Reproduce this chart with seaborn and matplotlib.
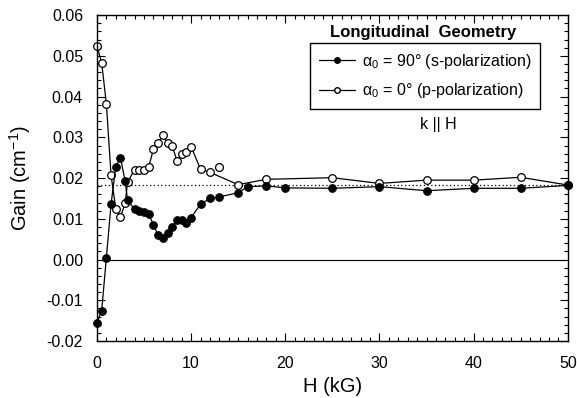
import matplotlib
matplotlib.use("Agg")
import matplotlib.pyplot as plt
from matplotlib.lines import Line2D
from matplotlib.ticker import MultipleLocator, FormatStrFormatter
import pandas as pd
import seaborn as sns

# Gain vs. magnetic field, alpha0 = 90 deg (s-polarization), filled symbols
H_s = [0, 0.5, 1, 1.5, 2, 2.5, 3, 3.25, 4, 4.5, 5, 5.5, 6, 6.5, 7, 7.5, 8, 8.5,
       9, 9.5, 10, 11, 12, 13, 15, 16, 18, 20, 25, 30, 35, 40, 45, 50]
G_s = [-0.0155, -0.0126, 0.0004, 0.0136, 0.0228, 0.0250, 0.0192, 0.0146,
       0.0123, 0.0120, 0.0117, 0.0112, 0.0085, 0.0060, 0.0054, 0.0066, 0.0080,
       0.0097, 0.0097, 0.0090, 0.0103, 0.0136, 0.0150, 0.0154, 0.0164, 0.0179,
       0.0181, 0.0176, 0.0175, 0.0179, 0.0169, 0.0175, 0.0175, 0.0182]

# Gain vs. magnetic field, alpha0 = 0 deg (p-polarization), open symbols
H_p = [0, 0.5, 1, 1.5, 2, 2.5, 3, 3.25, 4, 4.5, 5, 5.5, 6, 6.5, 7, 7.5, 8, 8.5,
       9, 9.5, 10, 11, 12, 15, 18, 25, 30, 35, 40, 45, 50]
G_p = [0.0525, 0.0483, 0.0383, 0.0207, 0.0125, 0.0105, 0.0138, 0.0190,
       0.0221, 0.0219, 0.0221, 0.0228, 0.0271, 0.0287, 0.0306, 0.0285, 0.0279,
       0.0242, 0.0258, 0.0263, 0.0277, 0.0222, 0.0214, 0.0184, 0.0197, 0.0201,
       0.0187, 0.0195, 0.0195, 0.0202, 0.0183]

# unconnected p-polarization measurement
H_p_extra = [13]
G_p_extra = [0.0228]

# reference levels
zero_level = 0.0
zero_span = [1, 50]
dotted_level = 0.0183
dotted_span = [0, 50]

legend_labels = ["α$_0$ = 90° (s-polarization)",
                 "α$_0$ = 0° (p-polarization)"]

sns.set_theme(style="ticks")
plt.rcParams.update({
    "font.family": ["Liberation Sans", "DejaVu Sans"],
    "axes.unicode_minus": False,
    "mathtext.fontset": "custom",
    "mathtext.rm": "Liberation Sans",
    "mathtext.it": "Liberation Sans",
    "mathtext.bf": "Liberation Sans:bold",
    "axes.edgecolor": "black",
    "axes.linewidth": 1.0,
    "xtick.color": "black",
    "ytick.color": "black",
    "text.color": "black",
    "axes.labelcolor": "black",
})

fig, ax = plt.subplots(figsize=(5.77, 3.98), dpi=100)
fig.subplots_adjust(left=0.168, right=0.984, top=0.962, bottom=0.143)

ax.hlines(zero_level, zero_span[0], zero_span[1], color="black", lw=0.8)
ax.hlines(dotted_level, dotted_span[0], dotted_span[1], color="black",
          lw=0.9, linestyles=(0, (1, 2)))

df_p = pd.DataFrame({"H": H_p, "Gain": G_p})
sns.lineplot(data=df_p, x="H", y="Gain", ax=ax, sort=False, estimator=None,
             color="black", lw=0.9, marker="o", markersize=5.5,
             markerfacecolor="white", markeredgecolor="black",
             markeredgewidth=0.9, clip_on=False)

df_px = pd.DataFrame({"H": H_p_extra, "Gain": G_p_extra})
sns.scatterplot(data=df_px, x="H", y="Gain", ax=ax, s=32, marker="o",
                facecolor="white", edgecolor="black", linewidth=0.9)

df_s = pd.DataFrame({"H": H_s, "Gain": G_s})
sns.lineplot(data=df_s, x="H", y="Gain", ax=ax, sort=False, estimator=None,
             color="black", lw=0.9, marker="o", markersize=5.5,
             markerfacecolor="black", markeredgecolor="black",
             clip_on=False)

ax.set_xlim(0, 50)
ax.set_ylim(-0.02, 0.06)
ax.xaxis.set_major_locator(MultipleLocator(10))
ax.xaxis.set_minor_locator(MultipleLocator(1))
ax.yaxis.set_major_locator(MultipleLocator(0.01))
ax.yaxis.set_minor_locator(MultipleLocator(0.002))
ax.yaxis.set_major_formatter(FormatStrFormatter("%.2f"))
ax.tick_params(which="both", direction="in", top=True, right=True,
               width=0.8, labelsize=11.5)
ax.tick_params(which="major", length=6)
ax.tick_params(which="minor", length=3)
ax.tick_params(axis="y", which="major", pad=10)
ax.tick_params(axis="x", which="major", pad=11)

ax.set_xlabel("H (kG)", fontsize=14.5, labelpad=4)
ax.set_ylabel("Gain (cm$^{-1}$)", fontsize=14.5, labelpad=10)

handles = [
    Line2D([], [], color="black", lw=0.9, marker="o", markersize=4,
           markerfacecolor="black", markeredgecolor="black"),
    Line2D([], [], color="black", lw=0.9, marker="o", markersize=4,
           markerfacecolor="white", markeredgecolor="black"),
]
leg = ax.legend(handles, legend_labels, loc="upper left",
                bbox_to_anchor=(0.452, 0.914), frameon=True, fancybox=False,
                edgecolor="black", framealpha=1, fontsize=11.5,
                handlelength=2.3, borderpad=0.55, labelspacing=0.65,
                handletextpad=0.4, borderaxespad=0)
leg.get_frame().set_linewidth(1.0)

ax.text(0.692, 0.948, "Longitudinal  Geometry", transform=ax.transAxes,
        ha="center", va="center", fontsize=12, fontweight="bold")
ax.text(0.724, 0.663, "k || H", transform=ax.transAxes,
        ha="center", va="center", fontsize=11.5)

fig.savefig("out.png", dpi=100)
